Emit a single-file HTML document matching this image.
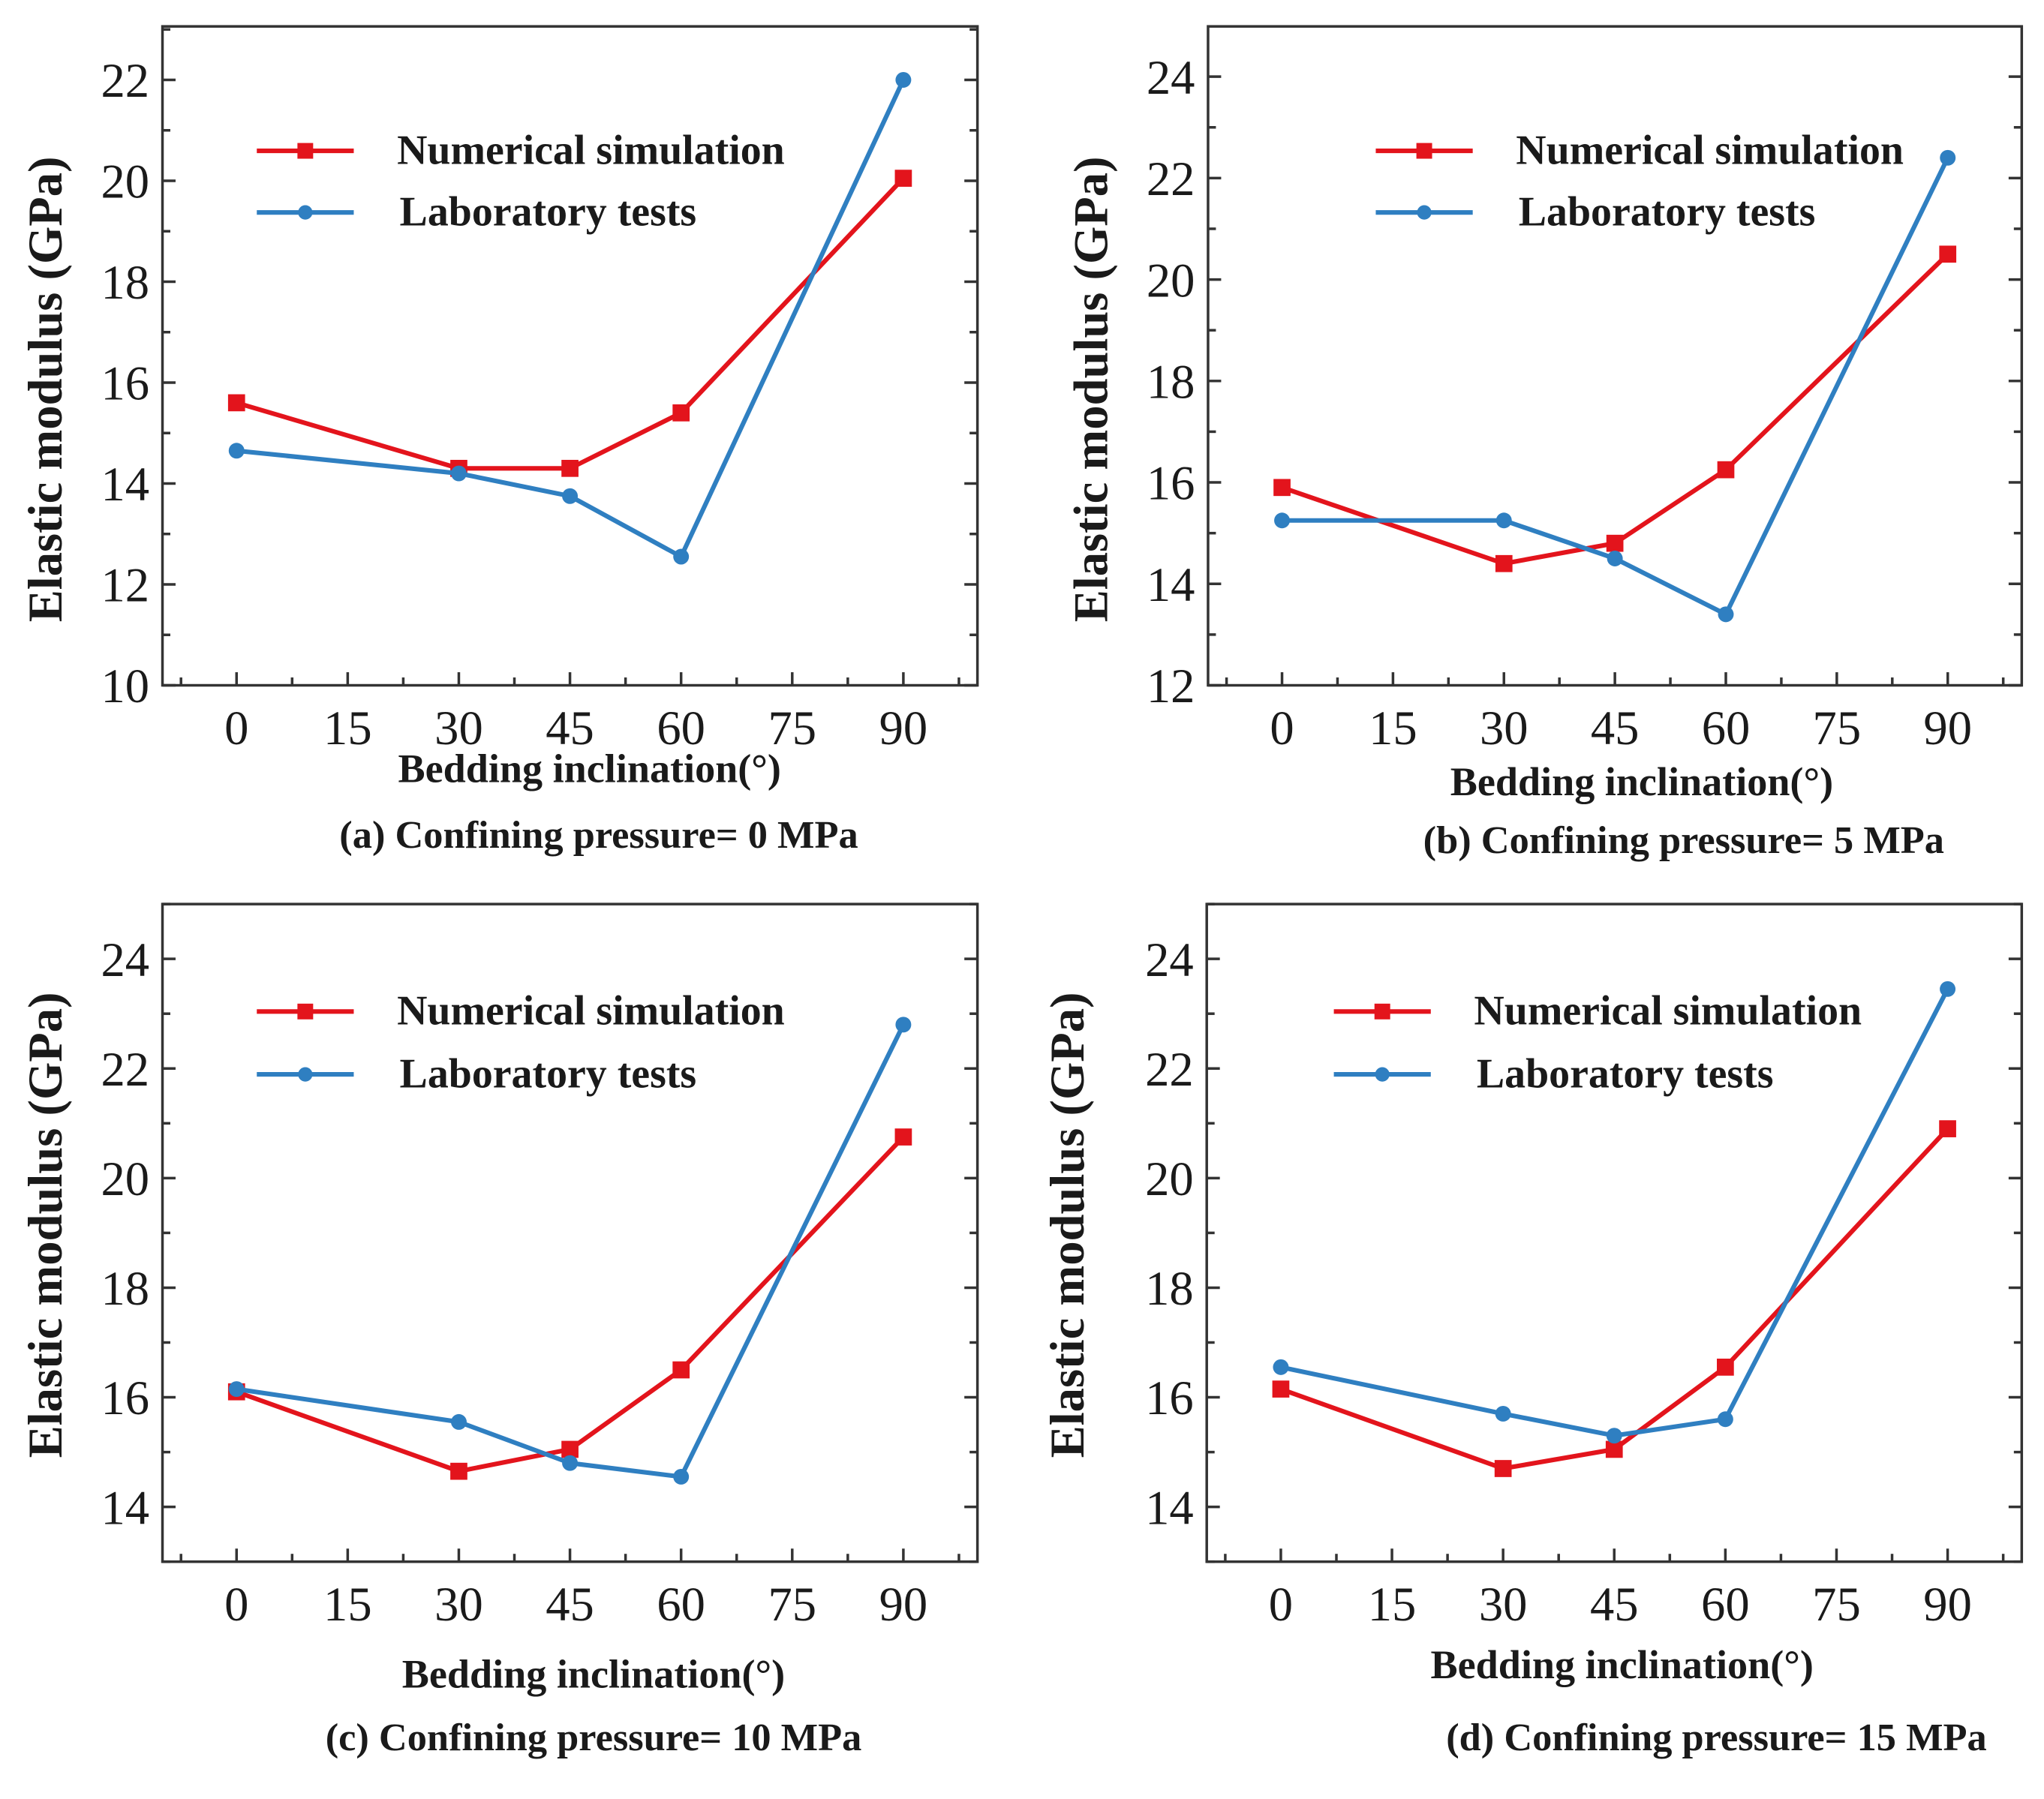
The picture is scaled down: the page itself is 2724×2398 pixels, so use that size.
<!DOCTYPE html>
<html><head><meta charset="utf-8">
<style>
html,body{margin:0;padding:0;background:#fff;}
svg{display:block;}
text{font-family:"Liberation Serif",serif;fill:#1a1a1a;}
</style></head>
<body>
<svg id="fig" width="2724" height="2398" viewBox="0 0 1560 1373" xmlns="http://www.w3.org/2000/svg"></svg>
<script>
const xCategories=[0,30,45,60,90];
const xTickLabels=[0,15,30,45,60,75,90];
const numA=[15.6,14.3,14.3,15.4,20.05];
const labA=[14.65,14.2,13.75,12.55,22.0];
const numB=[15.9,14.4,14.8,16.25,20.5];
const labB=[15.25,15.25,14.5,13.4,22.4];
const numC=[16.1,14.65,15.05,16.5,20.75];
const labC=[16.15,15.55,14.8,14.55,22.8];
const numD=[16.15,14.7,15.05,16.55,20.9];
const labD=[16.55,15.7,15.3,15.6,23.45];
const yTicksA=[10,12,14,16,18,20,22];
const yTicksB=[12,14,16,18,20,22,24];
const yTicksCD=[14,16,18,20,22,24];
const captions=["(a) Confining pressure= 0 MPa","(b) Confining pressure= 5 MPa","(c) Confining pressure= 10 MPa","(d) Confining pressure= 15 MPa"];

const NS="http://www.w3.org/2000/svg";
const svg=document.getElementById('fig');
function el(tag,attrs,parent){const e=document.createElementNS(NS,tag);for(const k in attrs)e.setAttribute(k,attrs[k]);(parent||svg).appendChild(e);return e;}

const panels=[
 {id:'a',L:124,R:746,T:20,B:523,ymin:10,ymax:23.06,yt:yTicksA,num:numA,lab:labA,legX:196,legTx:303,legY:[115,162],xt:[450,597],cap:[457,647],yl:[35,297]},
 {id:'b',L:922,R:1543,T:20,B:523,ymin:12,ymax:24.99,yt:yTicksB,num:numB,lab:labB,legX:1050,legTx:1157,legY:[115,162],xt:[1253,607],cap:[1285,651],yl:[833,297]},
 {id:'c',L:124,R:746,T:690,B:1192,ymin:13,ymax:25,yt:yTicksCD,num:numC,lab:labC,legX:196,legTx:303,legY:[772,820],xt:[453,1288],cap:[453,1336],yl:[35,935]},
 {id:'d',L:921,R:1543,T:690,B:1192,ymin:13,ymax:25,yt:yTicksCD,num:numD,lab:labD,legX:1018,legTx:1125,legY:[772,820],xt:[1238,1281],cap:[1310,1336],yl:[815,935]}
];

panels.forEach((p,i)=>{
 const g=el('g',{});
 
 
 const x0=p.L+(p.R-p.L)*10/110;
 const xs=v=>x0+(p.R-p.L)/110*v;
 const ys=v=>p.B-(p.B-p.T)*(v-p.ymin)/(p.ymax-p.ymin);
 const frame=el('rect',{x:p.L,y:p.T,width:p.R-p.L,height:p.B-p.T,fill:'none',stroke:'#333','stroke-width':2},g);
 
 
 for(let v=-7.5;v<=97.5;v+=7.5){
  const major=Math.abs(v%15)<0.01;
  const len=major?10:6;
  el('line',{x1:xs(v),x2:xs(v),y1:p.B,y2:p.B-len,stroke:'#333','stroke-width':2},g);
 }
 xTickLabels.forEach(v=>{
  const t=el('text',{x:xs(v),y:p.B+45,'text-anchor':'middle','font-size':37},g);
  t.textContent=v;
  
  
 });
 for(let v=Math.ceil(p.ymin);v<=p.ymax;v+=1){
  const major=p.yt.includes(v);
  const len=major?10:6;
  el('line',{x1:p.L,x2:p.L+len,y1:ys(v),y2:ys(v),stroke:'#333','stroke-width':2},g);
  el('line',{x1:p.R,x2:p.R-len,y1:ys(v),y2:ys(v),stroke:'#333','stroke-width':2},g);
 }
 p.yt.forEach(v=>{
  const t=el('text',{x:p.L-10,y:ys(v)+13,'text-anchor':'end','font-size':37},g);
  t.textContent=v;
  
  
 });
 const series=[{vals:p.num,color:'#e3141c',mark:'sq',name:'numerical-simulation'},{vals:p.lab,color:'#2f7fc1',mark:'ci',name:'laboratory-tests'}];
 series.forEach(s=>{
  const pts=xCategories.map((c,k)=>xs(c)+','+ys(s.vals[k])).join(' ');
  const pl=el('polyline',{points:pts,fill:'none',stroke:s.color,'stroke-width':3.5},g);
  
  
  xCategories.forEach((c,k)=>{
   let m;
   if(s.mark==='sq') m=el('rect',{x:xs(c)-6.5,y:ys(s.vals[k])-6.5,width:13,height:13,fill:s.color},g);
   else m=el('circle',{cx:xs(c),cy:ys(s.vals[k]),r:6,fill:s.color},g);
   
   
  });
 });
 const labels=['Numerical simulation','Laboratory tests'];
 series.forEach((s,k)=>{
  const ly=p.legY[k];
  const lg=el('g',{},g);
  
  
  el('line',{x1:p.legX,x2:p.legX+74,y1:ly,y2:ly,stroke:s.color,'stroke-width':3.5},lg);
  if(s.mark==='sq') el('rect',{x:p.legX+31,y:ly-6,width:12,height:12,fill:s.color},lg);
  else el('circle',{cx:p.legX+37,cy:ly,r:5.5,fill:s.color},lg);
  const t=el('text',{x:p.legTx+(k?2:0),y:ly+10,'font-size':32,'font-weight':'bold'},lg);
  t.textContent=labels[k];
 });
 const xt=el('text',{x:p.xt[0],y:p.xt[1],'text-anchor':'middle','font-size':31,'font-weight':'bold'},g);
 xt.textContent='Bedding inclination(°)';
 
 
 const cp=el('text',{x:p.cap[0],y:p.cap[1],'text-anchor':'middle','font-size':30,'font-weight':'bold'},g);
 cp.textContent=captions[i];
 
 
 const yl=el('text',{x:0,y:0,'text-anchor':'middle','font-size':37,'font-weight':'bold',transform:`translate(${p.yl[0]+12},${p.yl[1]}) rotate(-90)`},g);
 yl.textContent='Elastic modulus (GPa)';
 
 
});
</script>
</body></html>
